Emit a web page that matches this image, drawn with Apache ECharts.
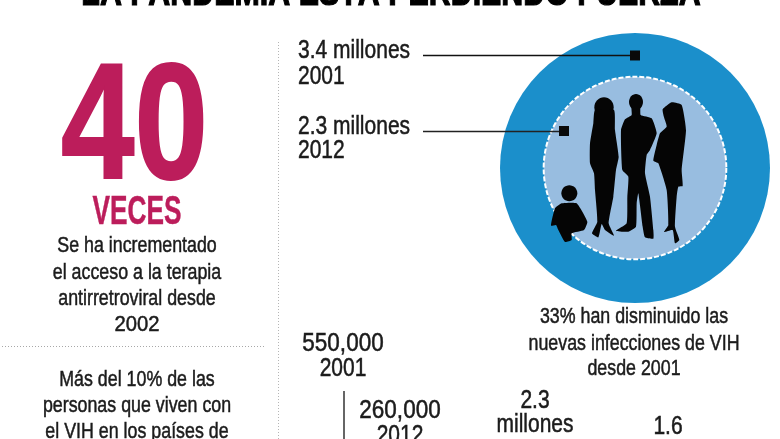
<!DOCTYPE html>
<html>
<head>
<meta charset="utf-8">
<style>
  html, body { margin: 0; padding: 0; background: #fff; }
  #main { width: 780px; height: 439px; }
</style>
<script src="https://cdn.jsdelivr.net/npm/echarts@6/dist/echarts.min.js"></script>
</head>
<body>
<div id="main"></div>
<script>
// new infections, millions
const infectionYears = ["2001", "2012"];
const infectionValues = [3.4, 2.3];
const circleCategory = ["VIH"];

const FONT = '"Liberation Sans", sans-serif';
const DARK = "#1b1b1b";
const PINK = "#bc1d5b";
const NARROW = 0.81; // no condensed font here, squeeze the normal one

// circle diameter follows the value, the big one is 270px wide
const sizePerMillion = 270 / infectionValues[0];

function label(text, x, y, size, extra, squeeze) {
  return {
    type: "text",
    x: x,
    y: y,
    scaleX: squeeze || NARROW,
    silent: true,
    z: 12,
    style: Object.assign({
      text: text,
      fill: DARK,
      stroke: DARK,
      lineWidth: 0.5,
      font: size + "px " + FONT,
      textAlign: "center",
      textVerticalAlign: "middle",
    }, extra || {}),
  };
}

function line(x1, y1, x2, y2, color, width, dash) {
  return {
    type: "line",
    silent: true,
    z: 10,
    shape: { x1: x1, y1: y1, x2: x2, y2: y2 },
    style: { stroke: color, lineWidth: width, lineDash: dash || null },
  };
}

function square(x, y) {
  return { type: "rect", silent: true, z: 11, shape: { x: x - 5, y: y - 5, width: 10, height: 10 }, style: { fill: "#0a0a0a" } };
}

// silhouettes traced in 3x coordinates
function shape(points) {
  return { type: "polygon", z: 11, shape: { points: points, smooth: 0.15 }, style: { fill: "#050505" } };
}
function head(cx, cy, rx, ry) {
  return { type: "ellipse", z: 11, shape: { cx: cx, cy: cy, rx: rx, ry: ry }, style: { fill: "#050505" } };
}
const family = {
  type: "group",
  x: 490,
  y: 30,
  scaleX: 1 / 3,
  scaleY: 1 / 3,
  silent: true,
  children: [
    head(342, 232, 29, 30),
    shape([[315,240],[372,240],[375,300],[386,380],[378,420],[370,500],[356,580],[372,617],[345,600],[335,582],[325,622],[306,610],[322,575],[315,480],[312,430],[300,400],[300,340],[310,280]]),
    head(438, 216, 21, 24),
    shape([[425,232],[450,232],[452,255],[485,265],[500,310],[480,360],[470,375],[465,430],[480,500],[490,600],[490,626],[465,622],[458,590],[445,490],[440,520],[438,590],[415,605],[378,602],[410,580],[412,500],[415,440],[397,420],[393,300],[405,268],[425,255]]),
    shape([[518,238],[545,217],[575,225],[588,300],[575,420],[578,468],[565,470],[560,500],[555,590],[568,630],[555,640],[548,600],[522,606],[535,585],[530,480],[505,400],[490,392],[500,345],[510,310],[530,290],[522,262]]),
    head(238, 490, 24, 24),
    shape([[215,520],[260,520],[292,575],[282,600],[245,610],[245,630],[225,636],[205,600],[198,585],[183,587],[195,535]]),
  ],
};

const chart = echarts.init(document.getElementById("main"));
chart.setOption({
  backgroundColor: "#fff",
  animation: false,
  grid: { left: 500, top: 33, width: 270, height: 270 },
  xAxis: { type: "category", data: circleCategory, show: false },
  yAxis: { type: "category", data: circleCategory, show: false },
  series: [
    {
      name: infectionYears[0],
      type: "scatter",
      silent: true,
      symbolSize: (d) => d[2] * sizePerMillion,
      itemStyle: { color: "#1b8fcb", opacity: 1 },
      data: [[circleCategory[0], circleCategory[0], infectionValues[0]]],
      z: 2,
    },
    {
      name: infectionYears[1],
      type: "scatter",
      silent: true,
      symbolSize: (d) => d[2] * sizePerMillion,
      itemStyle: { color: "#98bde0", opacity: 1, borderColor: "#fff", borderWidth: 2, borderType: [5, 2] },
      data: [[circleCategory[0], circleCategory[0], infectionValues[1]]],
      z: 3,
    },
  ],
  graphic: [
    // title is cut off by the top of the picture
    label("LA PANDEMIA ESTÁ PERDIENDO FUERZA", 391, -5, 38, { fill: "#000", stroke: "#000", lineWidth: 1.2, font: "bold 38px " + FONT }, 0.8),

    label("40", 134.5, 132, 165, { fill: PINK, stroke: PINK, lineWidth: 2, font: "bold 165px " + FONT }, 0.8),
    label("VECES", 137, 213, 41, { fill: PINK, stroke: PINK, lineWidth: 0.5, font: "bold 41px " + FONT }, 0.64),
    label("Se ha incrementado", 137, 246, 22),
    label("el acceso a la terapia", 137, 273, 22),
    label("antirretroviral desde", 137, 299, 22),
    label("2002", 137, 325, 22, null, 0.92),
    line(2, 346.5, 265, 346.5, "#a8a8a8", 1, [1, 2]),
    label("Más del 10% de las", 137, 380, 22),
    label("personas que viven con", 137, 406, 22),
    label("el VIH en los países de", 137, 432, 22),

    line(278.5, 42, 278.5, 439, "#b5b5b5", 1, [1, 2]),

    label("3.4 millones", 298, 51, 25, { textAlign: "left" }, 0.84),
    label("2001", 298, 77, 25, { textAlign: "left" }, 0.84),
    label("2.3 millones", 298, 127, 25, { textAlign: "left" }, 0.84),
    label("2012", 298, 151, 25, { textAlign: "left" }, 0.84),
    line(423, 55.5, 635, 55.5, "#111", 1.5),
    line(423, 131.5, 564, 131.5, "#222", 1.5),
    square(635, 55.5),
    square(564, 131),
    family,

    label("33% han disminuido las", 634, 317, 22),
    label("nuevas infecciones de VIH", 634, 344, 22),
    label("desde 2001", 634, 369, 22),

    label("550,000", 343, 344, 25, null, 0.9),
    label("2001", 343, 369, 25, null, 0.84),
    line(344, 391, 344, 439, "#333", 1.5),
    label("260,000", 400, 411, 25, null, 0.9),
    label("2012", 400, 436, 25, null, 0.84),
    label("2.3", 535, 401, 25, null, 0.84),
    label("millones", 535, 425, 25, null, 0.84),
    label("1.6", 668, 427, 25, null, 0.84),
  ],
});
</script>
</body>
</html>
